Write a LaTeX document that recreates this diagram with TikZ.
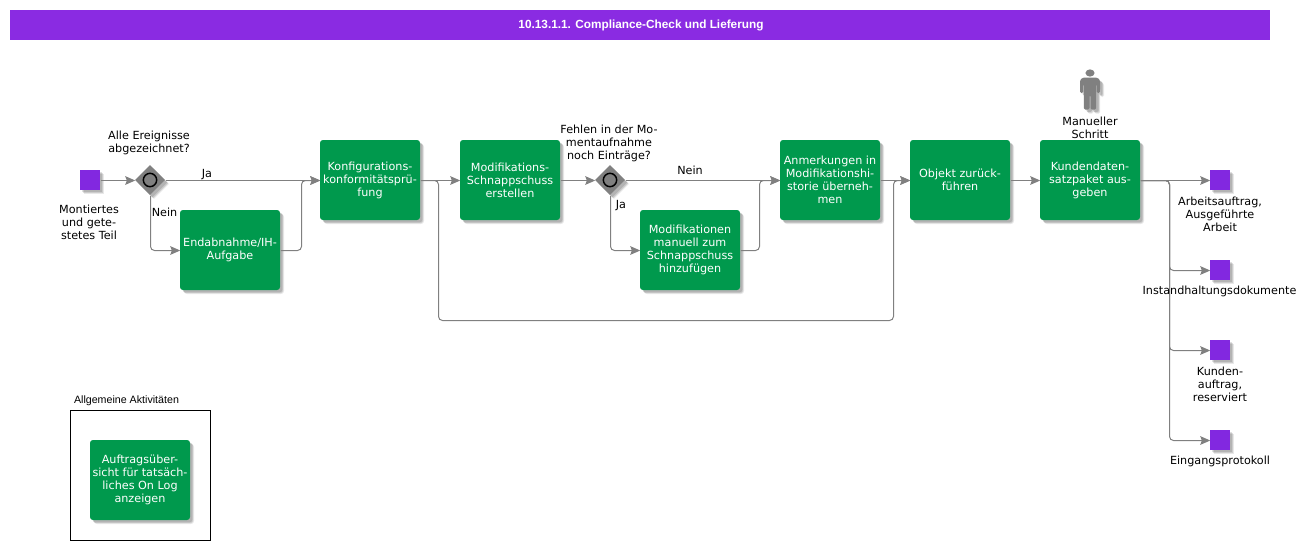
\documentclass[tikz,border=0pt]{standalone}
\usepackage{fontspec}
\setmainfont{DejaVu Sans}
\newfontfamily\titlefont{Liberation Sans}
\usetikzlibrary{shapes.geometric,shadows,arrows.meta}
\definecolor{taskgreen}{HTML}{00994D}
\definecolor{evpurple}{HTML}{8228E0}
\definecolor{titlepurple}{HTML}{8A2BE2}
\definecolor{linegray}{HTML}{808080}
\tikzset{
  softshadow/.style={
    drop shadow={shadow xshift=3pt,shadow yshift=-3pt,fill=black,opacity=.09},
    drop shadow={shadow xshift=2.4pt,shadow yshift=-2.4pt,fill=black,opacity=.12},
    drop shadow={shadow xshift=1.8pt,shadow yshift=-1.8pt,fill=black,opacity=.12}},
  lbl/.style={font=\fontsize{8.4}{9.75}\selectfont,align=center,inner sep=0pt,text=black,yshift=-1pt},
  taskbox/.style={rectangle,rounded corners=2.2pt,fill=taskgreen,minimum width=75pt,minimum height=60pt,inner sep=0pt,text=white,font=\fontsize{8.4}{9.75}\selectfont,align=center,softshadow,execute at begin node={\rule{0pt}{9.5pt}}},
  evbox/.style={rectangle,fill=evpurple,minimum size=15pt,inner sep=0pt,softshadow},
  gatebox/.style={diamond,aspect=1,fill=linegray,minimum size=22.5pt,inner sep=0pt,softshadow},
  gatering/.style={circle,draw=black,line width=1.1pt,fill=linegray,minimum size=10pt,inner sep=0pt},
  conn/.style={draw=linegray,line width=.75pt,rounded corners=3pt,-{Stealth[length=7.5pt,width=6.5pt,inset=1.2pt]}}
}
\begin{document}
\begin{tikzpicture}[x=.75pt,y=-.75pt]
\useasboundingbox (0,0) rectangle (1309,550);
% title
\node[rectangle,fill=titlepurple,minimum width=945pt,minimum height=22.5pt,inner sep=0pt,text=white,font=\titlefont\bfseries\fontsize{8.85}{11}\selectfont] (title) at (640,25) {\rule{0pt}{7.8pt}\hspace{1.5pt}10.13.1.1. Compliance-Check und Lieferung};
% tasks
\node[taskbox] (konf) at (370,180) {Konfigurations-\\konformitätsprü-\\fung};
\node[taskbox] (endab) at (230,250) {Endabnahme/IH-\\Aufgabe};
\node[taskbox] (snap) at (510,180) {Modifikations-\\Schnappschuss\\erstellen};
\node[taskbox] (manu) at (690,250) {Modifikationen\\manuell zum\\Schnappschuss\\hinzufügen};
\node[taskbox] (anm) at (830,180) {Anmerkungen in\\Modifikationshi-\\storie überneh-\\men};
\node[taskbox] (obj) at (960,180) {Objekt zurück-\\führen};
\node[taskbox] (kund) at (1090,180) {Kundendaten-\\satzpaket aus-\\geben};
% events
\node[evbox] (start) at (90,180) {};
\node[evbox] (e1) at (1220,180) {};
\node[evbox] (e2) at (1220,270) {};
\node[evbox] (e3) at (1220,350) {};
\node[evbox] (e4) at (1220,440) {};
% gateways
\node[gatebox] (g1) at (150,180) {};
\node[gatebox] (g2) at (610,180) {};
% routing points
\coordinate (xa) at (301,215);
\coordinate (xb) at (759,215);
\coordinate (xc) at (438,320);
\coordinate (xd) at (893,250);
\coordinate (xe) at (1169,225);
% connectors, set half a pixel over so that they fall on the pixel grid
\begin{scope}[transform canvas={xshift=.375pt,yshift=-.375pt}]
\draw[conn] (start.east) -- (g1.west);
\draw[conn] (g1.east) -- (konf.west);
\draw[conn] (g1.south) |- (endab.west);
\draw[conn] (endab.east) -| (xa) |- (konf.west);
\draw[conn] (konf.east) -- (snap.west);
\draw[conn] (snap.east) -- (g2.west);
\draw[conn] (g2.east) -- (anm.west);
\draw[conn] (g2.south) |- (manu.west);
\draw[conn] (manu.east) -| (xb) |- (anm.west);
\draw[conn] (konf.east) -| (xc) -| (xd) |- (obj.west);
\draw[conn] (anm.east) -- (obj.west);
\draw[conn] (obj.east) -- (kund.west);
\draw[conn] (kund.east) -- (e1.west);
\draw[conn] (kund.east) -| (xe) |- (e2.west);
\draw[conn] (kund.east) -| (xe) |- (e3.west);
\draw[conn] (kund.east) -| (xe) |- (e4.west);
\end{scope}
\node[gatering] (r1) at (150,180) {};
\node[gatering] (r2) at (610,180) {};
% labels
\node[lbl] (l1) at (149,141.5) {Alle Ereignisse\\abgezeichnet?};
\node[lbl] (l2) at (89,220.5) {Montiertes\\und gete-\\stetes Teil};
\node[lbl] (l3) at (207,173) {Ja};
\node[lbl] (l4) at (164.5,210.5) {Nein};
\node[lbl] (l5) at (609,142.5) {Fehlen in der Mo-\\mentaufnahme\\noch Einträge?};
\node[lbl] (l6) at (690,169) {Nein};
\node[lbl] (l7) at (621,204) {Ja};
\node[lbl] (l8) at (1090,126.5) {Manueller\\Schritt};
\node[lbl] (l9) at (1220,212.5) {Arbeitsauftrag,\\Ausgeführte\\Arbeit};
\node[lbl] (l10) at (1219.5,290) {Instandhaltungsdokumente};
\node[lbl] (l11) at (1220,382.5) {Kunden-\\auftrag,\\reserviert};
\node[lbl] (l12) at (1220,460) {Eingangsprotokoll};
% person
\path[softshadow,fill=linegray,rounded corners=1pt] (1083,77.5) -- (1097,77.5) -- (1100,80) -- (1100,93) -- (1096.8,93) -- (1096.8,84) -- (1096.2,84) -- (1096.2,109.5) -- (1090.5,109.5) -- (1090.5,95) -- (1089.5,95) -- (1089.5,109.5) -- (1083.8,109.5) -- (1083.8,84) -- (1083.2,84) -- (1083.2,93) -- (1080,93) -- (1080,80) -- cycle;
\fill[linegray] (1090,73) ellipse[x radius=3.4pt,y radius=2.7pt];
% legend
\node[lbl,font=\titlefont\fontsize{8}{9.75}\selectfont] (leg) at (126.5,399) {Allgemeine Aktivitäten};
\draw[black,line width=.75pt] (70.5,410.5) rectangle (210.5,540.5);
\node[taskbox] (auf) at (140,480) {Auftragsüber-\\sicht für tatsäch-\\liches On Log\\anzeigen};
\end{tikzpicture}
\end{document}
